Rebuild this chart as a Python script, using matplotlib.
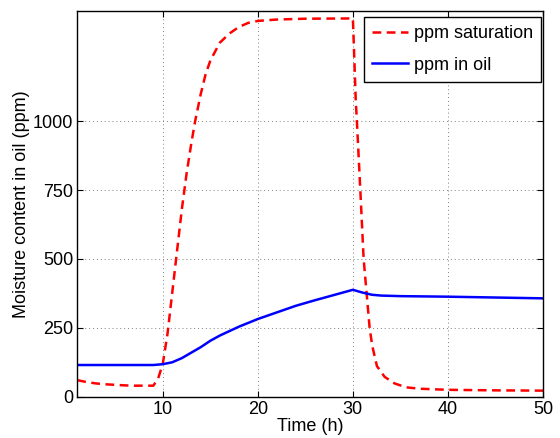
import matplotlib
matplotlib.use("Agg")
import matplotlib.pyplot as plt

plt.rcParams["font.family"] = ["Liberation Sans", "DejaVu Sans"]

# ppm saturation (red dashed)
sat_t = [1, 2, 3, 4, 5, 6, 7, 8, 9, 9.5, 10, 10.5, 11, 11.5, 12, 12.5, 13, 13.4, 14, 14.5,
         15, 16, 17, 18, 19, 20, 22, 25, 30, 30.3, 30.42, 30.78, 31.13, 31.76, 32.04, 32.53,
         33.34, 34.4, 35.6, 37, 40, 45, 50]
sat_ppm = [60, 53, 48, 45, 43, 41, 40, 40, 40, 65, 120, 230, 380, 530, 680, 810, 920, 1000, 1100, 1170,
           1220, 1285, 1318, 1342, 1357, 1364, 1369, 1372, 1373, 1076, 1000, 750, 500, 250, 184, 111,
           72, 48, 34, 29, 25, 23, 22]

# ppm in oil (blue solid)
oil_t = [1, 5, 9, 10, 11, 12, 13, 14, 15, 16, 17, 18, 20, 22, 24, 26, 28, 30, 31, 32, 33, 35, 40, 45, 50]
oil_ppm = [115, 115, 115, 118, 125, 140, 160, 180, 203, 222, 238, 254, 282, 306, 330, 350, 369, 388,
           378, 370, 367, 365, 363, 360, 357]

x_ticks = [10, 20, 30, 40, 50]
y_ticks = [0, 250, 500, 750, 1000]

fig = plt.figure(figsize=(5.6, 4.38), dpi=100)
ax = fig.add_axes([0.138, 0.0943, 0.8316, 0.8806])

ax.plot(sat_t, sat_ppm, color="#ff0000", linestyle=(0, (3.5, 2.2)), linewidth=1.8, label="ppm saturation")
ax.plot(oil_t, oil_ppm, color="#0000ff", linewidth=1.8, label="ppm in oil")

ax.set_xlim(1, 50)
ax.set_ylim(0, 1400)
ax.set_xticks(x_ticks)
ax.set_yticks(y_ticks)
ax.tick_params(direction="in", top=True, right=True, labelsize=13, length=4, width=0.8, pad=3)
ax.grid(True, color="#808080", linestyle=(0, (1, 3)), linewidth=0.7)
for spine in ax.spines.values():
    spine.set_linewidth(1.0)
    spine.set_color("black")

ax.set_xlabel("Time (h)", fontsize=13, labelpad=0)
ax.set_ylabel("Moisture content in oil (ppm)", fontsize=13, labelpad=2)

leg = ax.legend(loc="upper right", bbox_to_anchor=(0.9957, 0.9844), fontsize=13,
                handlelength=2.0, handletextpad=0.3, borderaxespad=0,
                fancybox=False, framealpha=1, edgecolor="black",
                borderpad=0.45, labelspacing=0.8)
leg.get_frame().set_linewidth(1.0)

fig.savefig("out.png", dpi=100)
